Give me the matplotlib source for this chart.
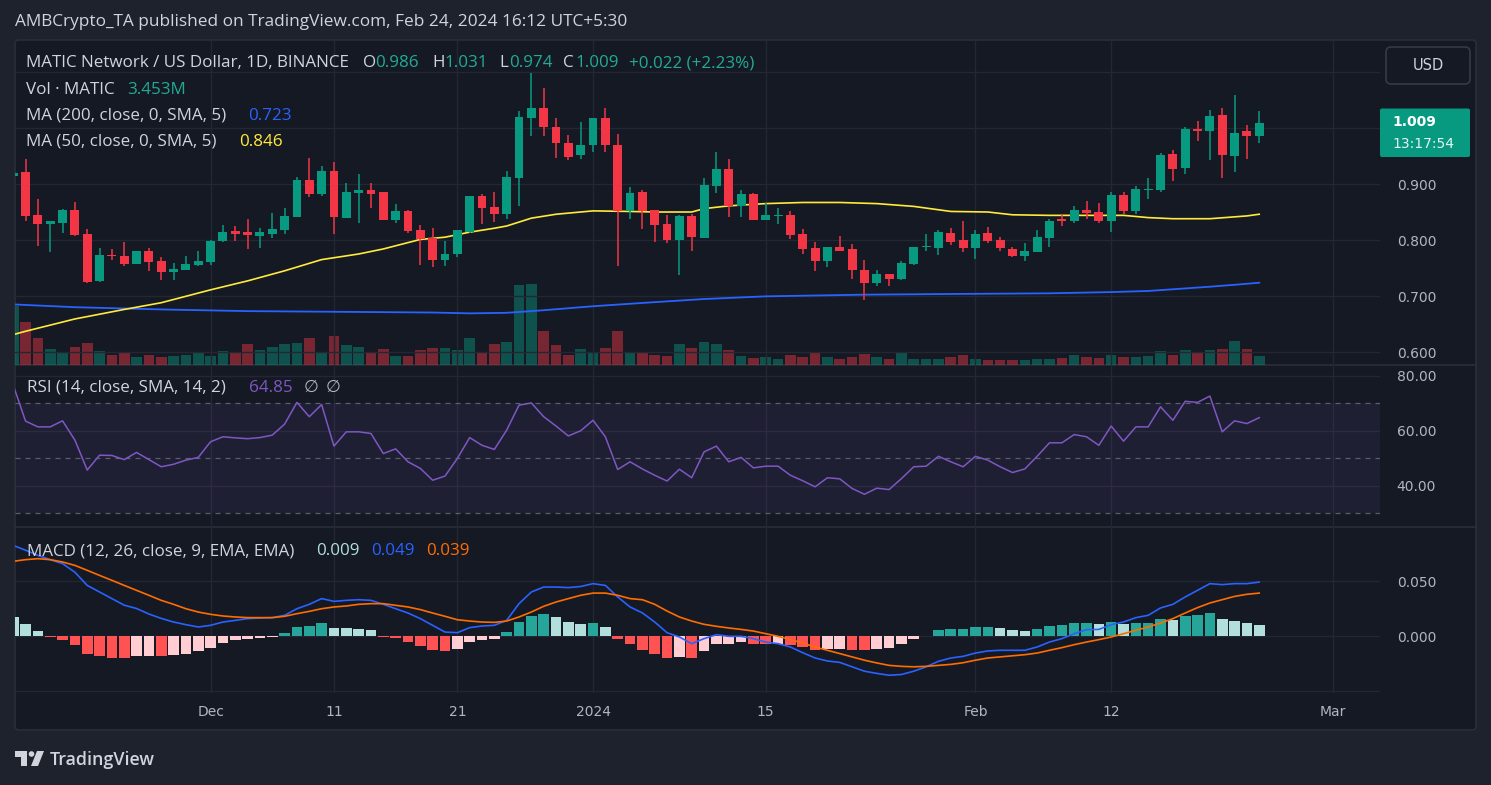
import matplotlib
matplotlib.use("Agg")
import matplotlib.pyplot as plt
from matplotlib.patches import FancyBboxPatch, Polygon, Circle

W, H = 1491, 785

# daily candles, index 0 = Nov 15 2023 ... index 101 = Feb 24 2024
opens = [0.915, 0.921, 0.844, 0.829, 0.830, 0.854, 0.811, 0.726, 0.774, 0.772,
         0.758, 0.781, 0.763, 0.742, 0.747, 0.756, 0.760, 0.799, 0.816, 0.814,
         0.808, 0.811, 0.818, 0.841, 0.907, 0.882, 0.923, 0.840, 0.884, 0.889,
         0.886, 0.836, 0.852, 0.818, 0.803, 0.765, 0.775, 0.815, 0.878, 0.859,
         0.846, 0.911, 1.017, 1.036, 1.002, 0.974, 0.951, 0.969, 1.017, 0.970,
         0.852, 0.885, 0.853, 0.828, 0.800, 0.843, 0.804, 0.896, 0.926, 0.860,
         0.882, 0.836, 0.843, 0.844, 0.810, 0.786, 0.762, 0.787, 0.784, 0.747,
         0.724, 0.739, 0.731, 0.757, 0.788, 0.786, 0.812, 0.800, 0.786, 0.812,
         0.800, 0.784, 0.772, 0.779, 0.804, 0.837, 0.834, 0.853, 0.850, 0.834,
         0.880, 0.852, 0.890, 0.889, 0.953, 0.928, 0.999, 0.995, 1.023, 0.950,
         0.994, 0.986]
highs = [0.935, 0.944, 0.874, 0.834, 0.856, 0.867, 0.820, 0.785, 0.784, 0.797,
         0.781, 0.785, 0.769, 0.759, 0.771, 0.781, 0.800, 0.827, 0.825, 0.837,
         0.821, 0.849, 0.858, 0.912, 0.946, 0.932, 0.940, 0.901, 0.917, 0.902,
         0.886, 0.865, 0.853, 0.827, 0.821, 0.799, 0.818, 0.878, 0.882, 0.885,
         0.923, 1.031, 1.098, 1.072, 1.018, 0.988, 1.011, 1.018, 1.035, 0.989,
         0.894, 0.889, 0.853, 0.844, 0.844, 0.846, 0.911, 0.958, 0.944, 0.889,
         0.884, 0.866, 0.858, 0.852, 0.820, 0.797, 0.787, 0.807, 0.793, 0.765,
         0.747, 0.739, 0.763, 0.788, 0.810, 0.818, 0.821, 0.834, 0.818, 0.823,
         0.805, 0.787, 0.794, 0.818, 0.837, 0.844, 0.860, 0.869, 0.866, 0.885,
         0.885, 0.896, 0.910, 0.956, 0.960, 1.001, 1.012, 1.033, 1.036, 1.059,
         1.005, 1.031]
lows = [0.905, 0.834, 0.789, 0.779, 0.813, 0.808, 0.723, 0.725, 0.765, 0.754,
        0.757, 0.744, 0.728, 0.728, 0.746, 0.754, 0.756, 0.797, 0.799, 0.784,
        0.786, 0.804, 0.810, 0.841, 0.877, 0.879, 0.811, 0.839, 0.830, 0.857,
        0.835, 0.831, 0.813, 0.756, 0.751, 0.754, 0.770, 0.813, 0.828, 0.833,
        0.837, 0.861, 0.986, 0.985, 0.946, 0.943, 0.945, 0.957, 0.957, 0.753,
        0.837, 0.820, 0.797, 0.794, 0.738, 0.781, 0.803, 0.884, 0.841, 0.841,
        0.835, 0.835, 0.828, 0.802, 0.775, 0.744, 0.751, 0.781, 0.731, 0.692,
        0.717, 0.717, 0.728, 0.756, 0.781, 0.773, 0.791, 0.779, 0.766, 0.795,
        0.781, 0.770, 0.763, 0.778, 0.788, 0.825, 0.831, 0.837, 0.830, 0.815,
        0.846, 0.846, 0.873, 0.886, 0.905, 0.917, 0.976, 0.943, 0.910, 0.921,
        0.944, 0.974]
closes = [0.920, 0.843, 0.828, 0.834, 0.854, 0.809, 0.725, 0.773, 0.772, 0.757,
          0.781, 0.761, 0.742, 0.749, 0.757, 0.763, 0.799, 0.815, 0.811, 0.809,
          0.814, 0.820, 0.843, 0.907, 0.882, 0.924, 0.841, 0.886, 0.889, 0.882,
          0.836, 0.852, 0.816, 0.801, 0.765, 0.775, 0.818, 0.878, 0.857, 0.846,
          0.912, 1.019, 1.036, 1.001, 0.973, 0.949, 0.970, 1.017, 0.969, 0.852,
          0.884, 0.852, 0.827, 0.800, 0.843, 0.805, 0.899, 0.926, 0.860, 0.882,
          0.836, 0.844, 0.844, 0.809, 0.784, 0.762, 0.787, 0.781, 0.746, 0.724,
          0.739, 0.731, 0.759, 0.787, 0.789, 0.814, 0.797, 0.786, 0.811, 0.799,
          0.785, 0.772, 0.781, 0.805, 0.834, 0.834, 0.853, 0.849, 0.834, 0.880,
          0.852, 0.891, 0.891, 0.951, 0.926, 0.999, 0.995, 1.022, 0.951, 0.991,
          0.985, 1.009]
# volume, millions of MATIC
volumes = [23.3, 16.9, 10.6, 6.1, 5.0, 7.1, 8.6, 5.4, 3.7, 5.0,
           3.0, 3.8, 3.0, 3.4, 3.7, 5.0, 3.4, 5.4, 4.8, 8.2,
           5.8, 7.0, 8.2, 8.6, 10.6, 5.0, 11.4, 7.8, 7.0, 5.0,
           6.1, 3.4, 3.4, 5.8, 6.6, 6.6, 5.8, 10.6, 4.6, 8.2,
           9.0, 31.6, 32.0, 13.4, 7.8, 3.8, 6.1, 4.6, 6.6, 13.4,
           4.6, 5.0, 3.8, 3.4, 8.2, 6.6, 9.0, 8.2, 5.8, 3.4,
           2.6, 3.0, 2.2, 3.8, 3.0, 5.0, 3.0, 2.2, 3.0, 4.2,
           3.0, 2.2, 4.6, 2.2, 2.2, 2.2, 3.0, 3.8, 2.2, 1.9,
           1.9, 1.9, 1.9, 2.2, 2.2, 2.6, 3.8, 3.0, 2.6, 3.8,
           3.0, 3.0, 3.4, 5.4, 3.8, 5.8, 4.6, 5.8, 6.2, 9.4,
           6.2, 3.453]

ma200_at = [0, 5, 12, 19, 25, 34, 37, 40, 42, 43, 47, 51, 56, 61, 69, 76, 84, 89, 92, 94, 97, 99, 101]
ma200 = [0.685, 0.680, 0.676, 0.673, 0.672, 0.6705, 0.669, 0.670, 0.673, 0.6746, 0.6817, 0.6876,
         0.6946, 0.6994, 0.7024, 0.7036, 0.7048, 0.707, 0.709, 0.712, 0.7166, 0.720, 0.7237]
ma50_at = [0, 1, 5, 9, 12, 16, 19, 22, 25, 28, 30, 33, 35, 37, 39, 40, 41, 42, 44, 47, 50,
           52, 55, 56, 58, 61, 64, 67, 70, 73, 76, 79, 81, 84, 87, 90, 92, 94, 97, 100, 101]
ma50 = [0.631, 0.637, 0.659, 0.676, 0.688, 0.711, 0.727, 0.745, 0.765, 0.775, 0.784, 0.801,
        0.805, 0.814, 0.821, 0.825, 0.832, 0.839, 0.846, 0.852, 0.851, 0.850, 0.850, 0.856,
        0.861, 0.865, 0.867, 0.867, 0.865, 0.860, 0.851, 0.850, 0.845, 0.844, 0.844, 0.844,
        0.840, 0.838, 0.838, 0.843, 0.846]

rsi = [76.7, 63.6, 61.5, 61.5, 63.7, 56.7, 45.8, 51.2, 51.1, 49.6,
       52.2, 49.6, 47.0, 47.9, 49.4, 50.4, 56.1, 57.9, 57.5, 57.2,
       57.6, 58.5, 62.5, 70.4, 65.2, 69.6, 54.5, 59.7, 59.7, 59.1,
       51.8, 53.5, 48.8, 46.4, 42.1, 43.6, 50.0, 57.6, 54.8, 53.3,
       60.3, 69.4, 70.2, 65.2, 61.8, 58.2, 60.1, 63.9, 57.9, 46.0,
       48.8, 46.2, 43.9, 41.8, 46.1, 43.0, 52.4, 54.5, 48.8, 50.4,
       46.6, 47.2, 47.2, 43.9, 41.9, 39.7, 43.0, 42.6, 39.1, 37.0,
       39.2, 38.7, 42.7, 47.0, 47.2, 50.8, 48.8, 47.0, 50.8, 49.4,
       47.0, 44.9, 46.2, 50.8, 55.7, 55.7, 58.7, 57.9, 54.8, 61.8,
       56.3, 61.5, 61.5, 68.8, 63.9, 70.8, 70.4, 72.7, 59.7, 63.7,
       62.7, 64.85]

macd = [0.0824, 0.0780, 0.0733, 0.0694, 0.0658, 0.0580, 0.0460, 0.0400, 0.0340, 0.0280,
        0.0250, 0.0200, 0.0160, 0.0127, 0.0103, 0.0082, 0.0097, 0.0127, 0.0142, 0.0158,
        0.0164, 0.0167, 0.0188, 0.0248, 0.0288, 0.0340, 0.0315, 0.0324, 0.0330, 0.0324,
        0.0288, 0.0248, 0.0209, 0.0158, 0.0097, 0.0036, 0.0030, 0.0076, 0.0091, 0.0097,
        0.0142, 0.0294, 0.0400, 0.0445, 0.0445, 0.0440, 0.0450, 0.0476, 0.0460, 0.0355,
        0.0264, 0.0210, 0.0127, 0.0030, -0.0009, -0.0070, -0.0024, 0.0012, -0.0003, -0.0003,
        -0.0024, -0.0055, -0.0070, -0.0100, -0.0152, -0.0200, -0.0227, -0.0240, -0.0280, -0.0320,
        -0.0340, -0.0357, -0.0350, -0.0320, -0.0280, -0.0230, -0.0200, -0.0185, -0.0155, -0.0136,
        -0.0130, -0.0130, -0.0130, -0.0100, -0.0055, -0.0024, 0.0021, 0.0058, 0.0060, 0.0103,
        0.0127, 0.0167, 0.0188, 0.0255, 0.0288, 0.0355, 0.0415, 0.0476, 0.0467, 0.0476,
        0.0476, 0.0490]
signal = [0.0679, 0.0694, 0.0703, 0.0694, 0.0673, 0.0642, 0.0597, 0.0551, 0.0506, 0.0460,
          0.0415, 0.0370, 0.0324, 0.0288, 0.0248, 0.0218, 0.0197, 0.0182, 0.0173, 0.0167,
          0.0167, 0.0167, 0.0179, 0.0203, 0.0224, 0.0248, 0.0264, 0.0273, 0.0288, 0.0294,
          0.0294, 0.0279, 0.0264, 0.0240, 0.0209, 0.0179, 0.0148, 0.0136, 0.0127, 0.0124,
          0.0136, 0.0173, 0.0218, 0.0270, 0.0309, 0.0340, 0.0370, 0.0390, 0.0390, 0.0370,
          0.0340, 0.0330, 0.0288, 0.0227, 0.0173, 0.0136, 0.0106, 0.0088, 0.0073, 0.0060,
          0.0045, 0.0021, -0.0003, -0.0033, -0.0064, -0.0100, -0.0130, -0.0160, -0.0190, -0.0220,
          -0.0245, -0.0267, -0.0276, -0.0280, -0.0276, -0.0267, -0.0258, -0.0243, -0.0220, -0.0200,
          -0.0190, -0.0180, -0.0170, -0.0155, -0.0130, -0.0106, -0.0079, -0.0055, -0.0033, -0.0009,
          0.0021, 0.0052, 0.0082, 0.0118, 0.0158, 0.0209, 0.0258, 0.0300, 0.0330, 0.0360,
          0.0379, 0.0390]
hist = [0.0173, 0.0106, 0.0042, -0.0009, -0.0039, -0.0082, -0.0164, -0.0185, -0.0201, -0.0204,
        -0.0186, -0.0183, -0.0186, -0.0177, -0.0168, -0.0137, -0.0107, -0.0064, -0.0040, -0.0024,
        -0.0015, -0.0009, 0.0024, 0.0079, 0.0089, 0.0119, 0.0073, 0.0072, 0.0064, 0.0052,
        -0.0006, -0.0018, -0.0055, -0.0095, -0.0125, -0.0140, -0.0119, -0.0058, -0.0040, -0.0024,
        0.0034, 0.0125, 0.0186, 0.0198, 0.0171, 0.0125, 0.0107, 0.0119, 0.0079, -0.0027,
        -0.0070, -0.0125, -0.0168, -0.0201, -0.0192, -0.0201, -0.0137, -0.0073, -0.0071, -0.0055,
        -0.0070, -0.0073, -0.0070, -0.0085, -0.0100, -0.0131, -0.0116, -0.0114, -0.0125, -0.0131,
        -0.0122, -0.0110, -0.0076, -0.0030, 0.0003, 0.0052, 0.0061, 0.0062, 0.0079, 0.0080,
        0.0070, 0.0052, 0.0050, 0.0061, 0.0088, 0.0097, 0.0115, 0.0116, 0.0106, 0.0124,
        0.0106, 0.0115, 0.0116, 0.0152, 0.0150, 0.0179, 0.0188, 0.0206, 0.0152, 0.0133,
        0.0115, 0.0100]

tick_idx = [16, 26, 36, 47, 61, 78, 89, 107]
tick_labels = ["Dec", "11", "21", "2024", "15", "Feb", "12", "Mar"]

PAGE = "#1e222d"
CHART = "#151924"
GRID = "#232733"
TXT = "#d1d4dc"
AXT = "#b2b5be"
UP = "#089981"
DN = "#f23645"

fig = plt.figure(figsize=(W / 100, H / 100), dpi=100, facecolor=PAGE)


def rect(x0, y0, x1, y1):
    return [x0 / W, 1 - y1 / H, (x1 - x0) / W, (y1 - y0) / H]


bg = fig.add_axes([0, 0, 1, 1], zorder=-5)
bg.set_xlim(0, W)
bg.set_ylim(H, 0)
bg.axis("off")
bg.add_patch(FancyBboxPatch((15, 40), 1461, 690, boxstyle="round,pad=0,rounding_size=4",
                            facecolor=CHART, edgecolor="#2a2e39", lw=1.2))
for yy in (364.5, 526.5):
    bg.plot([15, 1476], [yy, yy], color="#2a2e39", lw=1.2)

ax_p = fig.add_axes(rect(15, 41, 1380, 364.5))
ax_r = fig.add_axes(rect(15, 364.5, 1380, 526.5), sharex=ax_p)
ax_m = fig.add_axes(rect(15, 526.5, 1380, 693), sharex=ax_p)

n = len(closes)
xs = list(range(n))
colors = [UP if c >= o else DN for o, c in zip(opens, closes)]

# volume underneath the candles (twinx moves the host ticks, so style afterwards)
ax_v = ax_p.twinx()
ax_v.set_zorder(ax_p.get_zorder() - 1)
ax_v.set_ylim(0, 128.4)
ax_v.axis("off")
ax_v.bar(xs, volumes, width=0.86, color=colors, alpha=0.45, linewidth=0)

for ax in (ax_p, ax_r, ax_m):
    ax.set_facecolor("none")
    for s in ax.spines.values():
        s.set_visible(False)
    ax.yaxis.tick_right()
    ax.tick_params(length=0, labelcolor=AXT, labelsize=10, pad=12)
    ax.set_xticks(tick_idx)
    ax.grid(True, color=GRID, lw=1)
    ax.set_axisbelow(True)

ax_p.set_xlim(0.146, 110.79)
ax_p.tick_params(labelbottom=False, labelleft=False)
ax_r.tick_params(labelbottom=False, labelleft=False)
ax_m.tick_params(labelleft=False)
ax_m.set_xticklabels(tick_labels)
ax_m.tick_params(axis="x", pad=9, labelsize=10)

ax_p.set_ylim(0.57768, 1.15536)
ax_p.set_yticks([0.6, 0.7, 0.8, 0.9, 1.0, 1.1])
ax_p.set_yticklabels(["0.600", "0.700", "0.800", "0.900", "", ""])
ax_p.plot(ma200_at, ma200, color="#2962ff", lw=1.3, zorder=2)
ax_p.plot(ma50_at, ma50, color="#ffeb3b", lw=1.2, zorder=2)
ax_p.vlines(xs, lows, highs, colors=colors, lw=1.1, zorder=3)
bottoms = [min(o, c) for o, c in zip(opens, closes)]
heights = [max(abs(c - o), 0.0015) for o, c in zip(opens, closes)]
ax_p.bar(xs, heights, bottom=bottoms, width=0.72, color=colors, linewidth=0, zorder=4)

# RSI
ax_r.set_ylim(25.27, 84.18)
ax_r.set_yticks([40, 60, 80])
ax_r.set_yticklabels(["40.00", "60.00", "80.00"])
ax_r.axhspan(30, 70, color="#7e57c2", alpha=0.1, lw=0)
for lv in (30, 50, 70):
    ax_r.axhline(lv, color="#787b86", lw=0.9, ls=(0, (4, 4)), alpha=0.7)
ax_r.plot(xs, rsi, color="#7e57c2", lw=1.1)

# MACD
ax_m.set_ylim(-0.05182, 0.09955)
ax_m.set_yticks([-0.05, 0.0, 0.05])
ax_m.set_yticklabels(["", "0.000", "0.050"])
hcol = []
for i, v in enumerate(hist):
    prev = hist[i - 1] if i else v
    if v >= 0:
        hcol.append("#26a69a" if v > prev else "#b2dfdb")
    else:
        hcol.append("#ffcdd2" if v > prev else "#ff5252")
ax_m.bar(xs, hist, width=0.86, color=hcol, linewidth=0)
ax_m.plot(xs, macd, color="#2962ff", lw=1.2)
ax_m.plot(xs, signal, color="#ff6d00", lw=1.2)

# overlay for legends, boxes and logo
fg = fig.add_axes([0, 0, 1, 1], zorder=10)
fg.set_xlim(0, W)
fg.set_ylim(H, 0)
fg.axis("off")
fg.patch.set_visible(False)

FONT = ["Open Sans", "DejaVu Sans"]
renderer = fig.canvas.get_renderer()


def fit_size(s, width, weight="normal"):
    t = fg.text(0, 0, s, fontsize=10, family=FONT, weight=weight)
    w = t.get_window_extent(renderer).width
    t.remove()
    return 10 * width / w


def put(x, y, s, color, size, weight="normal", ha="left"):
    fg.text(x, y, s, color=color, fontsize=size, family=FONT, weight=weight,
            va="center", ha=ha)


put(15.3, 22, "AMBCrypto_TA published on TradingView.com, Feb 24, 2024 16:12 UTC+5:30", TXT,
    fit_size("AMBCrypto_TA published on TradingView.com, Feb 24, 2024 16:12 UTC+5:30", 612))

fs = fit_size("MATIC Network / US Dollar, 1D, BINANCE", 325)
VAL = "#22ab94"
put(26.5, 63, "MATIC Network / US Dollar, 1D, BINANCE", TXT, fs)
for x, s, c in [(363, "O", TXT), (375, "0.986", VAL), (432, "H", TXT), (444, "1.031", VAL),
                (499, "L", TXT), (509, "0.974", VAL), (563, "C", TXT), (575, "1.009", VAL),
                (629, "+0.022 (+2.23%)", VAL)]:
    put(x, 63, s, c, fs)
put(26.5, 90, "Vol · MATIC", TXT, fs)
put(127.5, 90, "3.453M", VAL, fs)
put(26.5, 116, "MA (200, close, 0, SMA, 5)", TXT, fs)
put(248, 116, "0.723", "#2962ff", fs)
put(26.5, 142, "MA (50, close, 0, SMA, 5)", TXT, fs)
put(239, 142, "0.846", "#ffeb3b", fs)
put(27, 388, "RSI (14, close, SMA, 14, 2)", TXT, fs)
put(249, 388, "64.85", "#7e57c2", fs)
put(304, 388, "\u2205", AXT, fs)
put(326, 388, "\u2205", AXT, fs)
put(27, 551, "MACD (12, 26, close, 9, EMA, EMA)", TXT, fs)
put(316, 551, "0.009", "#b2dfdb", fs)
put(371, 551, "0.049", "#2962ff", fs)
put(426, 551, "0.039", "#ff6d00", fs)

# USD box and last price label
fg.add_patch(FancyBboxPatch((1386, 47), 84, 37, boxstyle="round,pad=0,rounding_size=5",
                            facecolor=CHART, edgecolor="#363a45", lw=1.2))
fg.text(1428, 65.5, "USD", color=TXT, fontsize=10.5, family="DejaVu Sans", va="center", ha="center")
fg.add_patch(FancyBboxPatch((1380, 108.5), 90, 48.5, boxstyle="round,pad=0,rounding_size=2",
                            facecolor=UP, edgecolor="none"))
fg.text(1392, 122, "1.009", color="white", fontsize=10, family="DejaVu Sans", weight="bold", va="center")
fg.text(1392, 144, "13:17:54", color="#e6f4f1", fontsize=10, family="DejaVu Sans", va="center")

# TradingView logo
fg.add_patch(Polygon([(15, 751), (27, 751), (27, 766), (21, 766), (21, 757), (15, 757)],
                     closed=True, facecolor=TXT, edgecolor="none"))
fg.add_patch(Circle((31.5, 754), 2.8, facecolor=TXT, edgecolor="none"))
fg.add_patch(Polygon([(37, 751), (44, 751), (38, 766), (31, 766)], closed=True,
                     facecolor=TXT, edgecolor="none"))
put(50, 760, "TradingView", TXT, fit_size("TradingView", 105, "semibold"), weight="semibold")

fig.savefig("out.png", dpi=100, facecolor=PAGE)
